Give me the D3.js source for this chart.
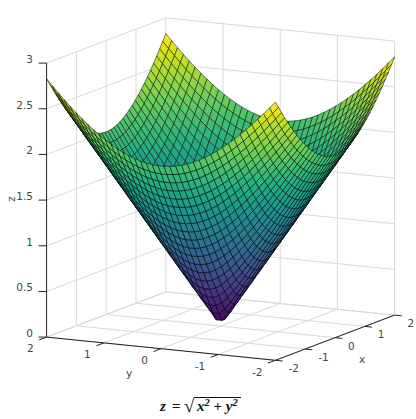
<!DOCTYPE html>
<html>
<head>
<meta charset="utf-8">
<script src="https://cdn.jsdelivr.net/npm/d3@7"></script>
<style>
html,body{margin:0;padding:0;background:#fff;}
svg{display:block;}
text{font-family:"DejaVu Sans",Verdana,sans-serif;font-size:10.5px;fill:#444;}
.math{font-family:"Liberation Serif",serif;font-weight:bold;font-style:italic;font-size:15px;fill:#111;}
</style>
</head>
<body>
<svg id="chart" width="416" height="419"></svg>
<script>
// Mesh sample positions on both horizontal axes; height comes from the equation in the chart's title.
const xSamples = [-2,-1.8974,-1.7949,-1.6923,-1.5897,-1.4872,-1.3846,-1.2821,-1.1795,-1.0769,-0.9744,-0.8718,-0.7692,-0.6667,-0.5641,-0.4615,-0.359,-0.2564,-0.1538,-0.0513,0.0513,0.1538,0.2564,0.359,0.4615,0.5641,0.6667,0.7692,0.8718,0.9744,1.0769,1.1795,1.2821,1.3846,1.4872,1.5897,1.6923,1.7949,1.8974,2];
const ySamples = xSamples.slice();
const surfaceHeight = (x, y) => Math.hypot(x, y);

const xTicks = [-2,-1,0,1,2];
const yTicks = [2,1,0,-1,-2];
const zTicks = [0,0.5,1,1.5,2,2.5,3];
const fmt = v => String(v);

// Orthographic projection: each data axis contributes a fixed screen offset.
const xToSx = d3.scaleLinear([-2,2],[-59.6,59.6]);
const xToSy = d3.scaleLinear([-2,2],[22.6,-22.6]);
const yToSx = d3.scaleLinear([-2,2],[114.4,-114.4]);
const yToSy = d3.scaleLinear([-2,2],[11.6,-11.6]);
const zToSy = d3.scaleLinear([0,3],[0,-274]);
const originX = 220.6, originY = 326.1;
const P = (x,y,z) => [originX + xToSx(x) + yToSx(y), originY + xToSy(x) + yToSy(y) + zToSy(z)];

const color = d3.scaleSequential(d3.interpolateViridis).domain([0, Math.hypot(2,2)]);
const svg = d3.select("#chart");

// Grid on floor and two back walls
const gridColor = "#d9d9d9";
const gridSegs = [];
xTicks.forEach(x => { gridSegs.push([[x,2,0],[x,-2,0]]); if (x > -2) gridSegs.push([[x,2,0],[x,2,3]]); });
yTicks.forEach(y => { gridSegs.push([[-2,y,0],[2,y,0]]); if (y < 2) gridSegs.push([[2,y,0],[2,y,3]]); });
zTicks.forEach(z => { gridSegs.push([[-2,2,z],[2,2,z]]); gridSegs.push([[2,2,z],[2,-2,z]]); });
svg.append("g").selectAll("line").data(gridSegs).join("line")
  .attr("x1", d => P(...d[0])[0]).attr("y1", d => P(...d[0])[1])
  .attr("x2", d => P(...d[1])[0]).attr("y2", d => P(...d[1])[1])
  .attr("stroke", gridColor).attr("stroke-width", 1);

// Axis lines and ticks
const axisColor = "#222";
const tickLen = 0.125;
const axisSegs = [
  [P(-2,2,0), P(-2,2,3)],
  [P(-2,2,0), P(-2,-2,0)],
  [P(-2,-2,0), P(2,-2,0)]
];
zTicks.forEach(z => { const p = P(-2,2,z); axisSegs.push([p,[p[0]-8,p[1]]]); });
yTicks.forEach(y => { axisSegs.push([P(-2,y,0), P(-2-0.25,y,0)]); });
xTicks.forEach(x => { axisSegs.push([P(x,-2,0), P(x,-2-tickLen,0)]); });
svg.append("g").selectAll("line").data(axisSegs).join("line")
  .attr("x1", d => d[0][0]).attr("y1", d => d[0][1])
  .attr("x2", d => d[1][0]).attr("y2", d => d[1][1])
  .attr("stroke", axisColor).attr("stroke-width", 1);

// Surface: painter's order from the far corner (+x,+y) to the near corner (-x,-y)
const cells = [];
for (let i = xSamples.length - 2; i >= 0; i--) {
  for (let j = ySamples.length - 2; j >= 0; j--) {
    const xa = xSamples[i], xb = xSamples[i+1], ya = ySamples[j], yb = ySamples[j+1];
    const corners = [[xa,ya],[xb,ya],[xb,yb],[xa,yb]];
    const zs = corners.map(c => surfaceHeight(c[0],c[1]));
    cells.push({pts: corners.map((c,k) => P(c[0],c[1],zs[k])), z: d3.mean(zs)});
  }
}
svg.append("g").selectAll("polygon").data(cells).join("polygon")
  .attr("points", d => d.pts.map(p => p.join(",")).join(" "))
  .attr("fill", d => color(d.z))
  .attr("stroke", "#000").attr("stroke-opacity", 0.7).attr("stroke-width", 0.7)
  .attr("stroke-linejoin", "round");

// Tick labels
const labels = svg.append("g");
zTicks.forEach(z => { const p = P(-2,2,z);
  labels.append("text").attr("x", 33).attr("y", p[1]-0.2).attr("text-anchor","end").text(fmt(z)); });
yTicks.forEach(y => { const p = P(-2,y,0);
  labels.append("text").attr("x", p[0]-13).attr("y", p[1]+15.3).attr("text-anchor","end").text(fmt(y)); });
xTicks.forEach(x => { const p = P(x,-2,0);
  labels.append("text").attr("x", p[0]+13).attr("y", p[1]+11.8).attr("text-anchor","start").text(fmt(x)); });

// Axis titles
labels.append("text").attr("x",129).attr("y",377).attr("text-anchor","middle").text("y");
labels.append("text").attr("x",362).attr("y",363).attr("text-anchor","middle").text("x");
labels.append("text").attr("text-anchor","middle").attr("transform","translate(15,199) rotate(-90)").text("z");

// Equation title
const m = svg.append("g");
m.append("text").attr("class","math").attr("x",160).attr("y",411).text("z");
m.append("text").attr("class","math").attr("x",172).attr("y",411).style("font-style","normal").text("=");
m.append("text").attr("class","math").attr("x",184).attr("y",412).style("font-style","normal").style("font-size","19px").text("√");
const r = m.append("text").attr("class","math").attr("x",197).attr("y",411);
r.append("tspan").text("x");
r.append("tspan").attr("dy",-5).style("font-size","10.5px").text("2");
r.append("tspan").attr("dy",5).style("font-style","normal").text(" + ");
r.append("tspan").text("y");
r.append("tspan").attr("dy",-5).style("font-size","10.5px").text("2");
m.append("line").attr("x1",194).attr("x2",241).attr("y1",397.5).attr("y2",397.5).attr("stroke","#111").attr("stroke-width",1);
</script>
</body>
</html>
